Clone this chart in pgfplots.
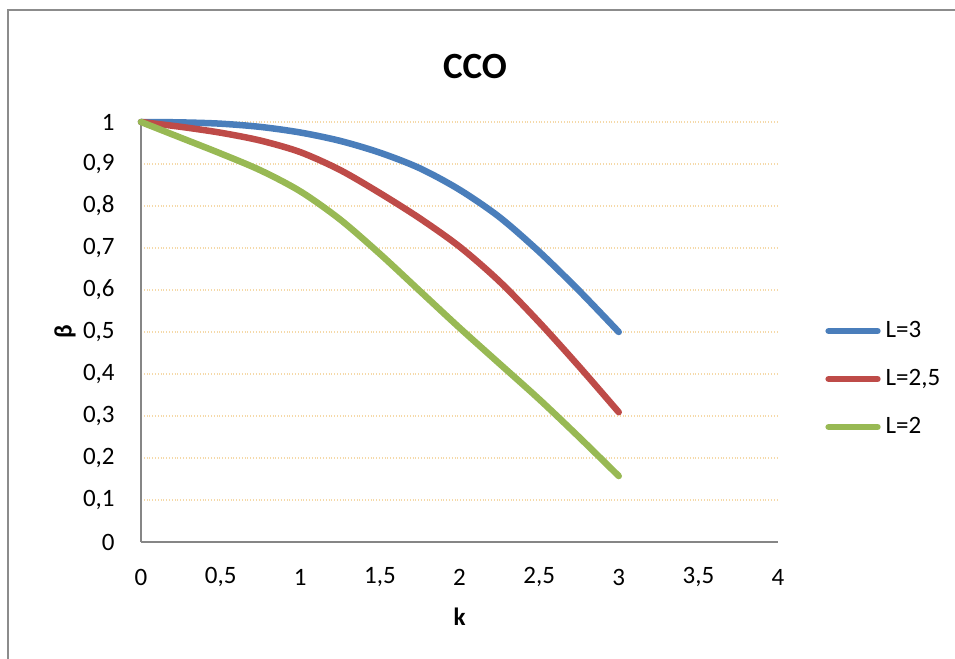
\documentclass[border=0pt]{standalone}
\usepackage{fontspec}
\setmainfont{Carlito}
\usepackage{pgfplots}
\pgfplotsset{compat=1.18}
\definecolor{cblue}{HTML}{4A7EBB}
\definecolor{cred}{HTML}{BE4B48}
\definecolor{cgreen}{HTML}{98B954}
\definecolor{gridc}{HTML}{F5D9A8}
\definecolor{axisgray}{HTML}{868686}
\definecolor{bordergray}{HTML}{8C8C8C}
\begin{document}
\fontsize{12.5}{15}\selectfont
\begin{tikzpicture}
\useasboundingbox (0,0) rectangle (477.5pt,329.5pt);
\draw[color=bordergray, line width=1.2pt] (4pt,0) -- (4pt,324.5pt) -- (477.5pt,324.5pt);
\node[font=\bfseries\fontsize{18.5}{22}\selectfont] at (237.5pt,296pt) {CCO};
\begin{axis}[
  at={(70.5pt,58.5pt)}, anchor=south west,
  scale only axis, width=318.5pt, height=210pt,
  clip=false,
  xmin=0, xmax=4, ymin=0, ymax=1,
  xtick={0,0.5,1,1.5,2,2.5,3,3.5,4},
  ytick={0,0.1,0.2,0.3,0.4,0.5,0.6,0.7,0.8,0.9,1},
  /pgf/number format/.cd, use comma, assume math mode=true, fixed,
  /pgfplots/.cd,
  axis x line*=bottom, axis y line*=left,
  axis line style={-, draw=axisgray, line width=0.9pt},
  major tick length=0pt,
  ymajorgrids,
  grid style={densely dotted, color=gridc, line width=0.8pt},
  tick label style={font=\fontsize{12.5}{15}\selectfont},
  yticklabel style={inner sep=0pt, anchor=east, xshift=-13pt},
  xticklabel style={inner sep=0pt, anchor=center, yshift=-17.5pt},
  xlabel={\textbf{k}},
  xlabel style={at={(axis description cs:0.5,0)}, anchor=center, yshift=-37.5pt, font=\fontsize{12.5}{15}\selectfont},
  ylabel={\textbf{β}},
  ylabel style={at={(axis description cs:-0.1193,0.5)}, anchor=center, font=\fontsize{12.5}{15}\selectfont},
  legend style={at={(axis description cs:1.0738,0.388)}, anchor=west, draw=none, fill=none, inner sep=0pt, row sep=12pt,
    nodes={inner sep=0pt, text height=9pt, text depth=3pt, anchor=west, font=\fontsize{12.5}{15}\selectfont}},
  legend cell align=left,
  legend image code/.code={\draw[#1, line cap=round] (1.6pt,0pt) -- (26pt,0pt);},
  /tikz/every odd column/.append style={column sep=2.5pt},
]
\addplot[cblue, line width=3.25pt, smooth, line cap=round] table {
0 1
0.25 0.9991
0.5 0.996
0.75 0.9883
1 0.975
1.25 0.9551
1.5 0.927
1.75 0.89
2 0.8388
2.25 0.7738
2.5 0.6913
2.75 0.5988
3 0.5
};
\addlegendentry{L=3}
\addplot[cred, line width=3.25pt, smooth, line cap=round] table {
0 1
0.25 0.9885
0.5 0.9745
0.75 0.9558
1 0.9283
1.25 0.8858
1.5 0.8308
1.75 0.7708
2 0.7033
2.25 0.6208
2.5 0.5233
2.75 0.4183
3 0.309
};
\addlegendentry{L=2,5}
\addplot[cgreen, line width=3.25pt, smooth, line cap=round] table {
0 1
0.25 0.9625
0.5 0.925
0.75 0.885
1 0.835
1.25 0.768
1.5 0.686
1.75 0.598
2 0.51
2.25 0.425
2.5 0.34
2.75 0.25
3 0.157
};
\addlegendentry{L=2}
\end{axis}
\end{tikzpicture}
\end{document}
